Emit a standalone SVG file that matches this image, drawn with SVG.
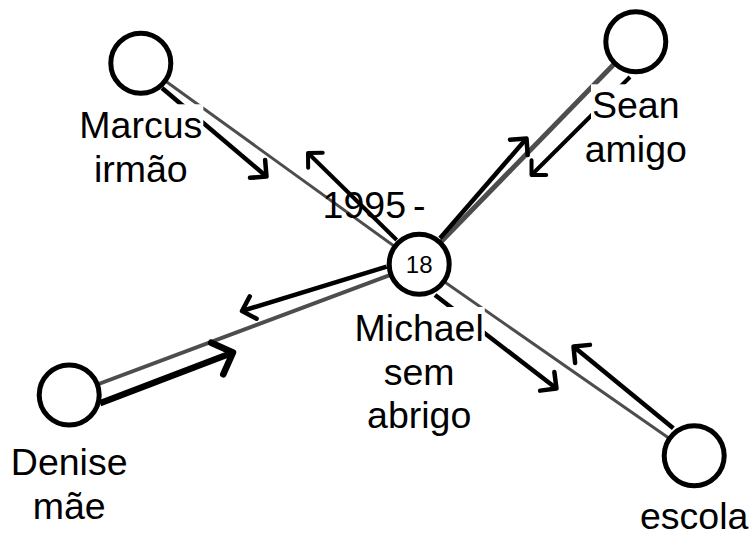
<svg xmlns="http://www.w3.org/2000/svg" width="751" height="539" viewBox="0 0 751 539">
  <defs>
    <style>
      .tie { stroke: #4d4d4d; fill: none; }
      .flow { stroke: #000; fill: none; marker-end: url(#head); }
      .node { fill: #fff; stroke: #000; stroke-width: 5; }
      .lbl { font-family: "Liberation Sans", Arial, sans-serif; font-size: 37.5px; text-anchor: middle; fill: #000; }
      .year { font-family: "Liberation Sans", Arial, sans-serif; font-size: 37.5px; text-anchor: start; fill: #000; }
      .age { font-family: "Liberation Sans", Arial, sans-serif; font-size: 24px; text-anchor: middle; fill: #000; }
      .bg { fill: #fff; }
    </style>
    <!-- open chevron head, scaled by the line's stroke width -->
    <marker id="head" markerUnits="strokeWidth" orient="auto" overflow="visible" markerWidth="6" markerHeight="6" refX="0" refY="0">
      <path d="M-2.6,-2.6 L0,0 L-2.6,2.6" fill="none" stroke="#000" stroke-width="1" stroke-linecap="round" stroke-linejoin="round"/>
    </marker>
  </defs>

  <rect width="751" height="539" fill="#fff"/>

  <g id="connectors">
    <!-- relationship ties -->
    <line class="tie" x1="140.8" y1="63.3" x2="419.2" y2="264.2" stroke-width="3"/>
    <line class="tie" x1="635.8" y1="41.7" x2="419.2" y2="264.2" stroke-width="5"/>
    <line class="tie" x1="69.2" y1="395" x2="419.2" y2="264.2" stroke-width="4"/>
    <line class="tie" x1="694.2" y1="455.8" x2="419.2" y2="264.2" stroke-width="3"/>
    <!-- directed flows -->
    <line class="flow" x1="162" y1="88" x2="266.5" y2="176.5" stroke-width="4.5"/>
    <line class="flow" x1="396.7" y1="240" x2="308" y2="153" stroke-width="4"/>
    <line class="flow" x1="440" y1="238.3" x2="526.5" y2="138.5" stroke-width="4.5"/>
    <line class="flow" x1="630" y1="77" x2="531.5" y2="175" stroke-width="4"/>
    <line class="flow" x1="100" y1="403.3" x2="233" y2="352.5" stroke-width="6.5"/>
    <line class="flow" x1="386.7" y1="266.7" x2="242" y2="311" stroke-width="4.5"/>
    <line class="flow" x1="435" y1="295" x2="556.5" y2="388.5" stroke-width="4.5"/>
    <line class="flow" x1="673.3" y1="428.3" x2="573.5" y2="346.5" stroke-width="4.5"/>
  </g>

  <text class="year" x="322.6" y="218.3">1995<tspan dx="7">-</tspan></text>

  <g id="michael">
    <circle class="node" cx="419.2" cy="264.2" r="30"/>
    <text class="age" x="419.2" y="272.8">18</text>
    <rect class="bg" x="353.6" y="307" width="131.2" height="42"/>
    <rect class="bg" x="382.8" y="350.5" width="72.8" height="42"/>
    <rect class="bg" x="366.1" y="394" width="106.2" height="42"/>
    <text class="lbl" x="419.2" y="341">Michael</text>
    <text class="lbl" x="419.2" y="384.5">sem</text>
    <text class="lbl" x="419.2" y="428">abrigo</text>
  </g>

  <g id="marcus">
    <circle class="node" cx="140.8" cy="63.3" r="30"/>
    <rect class="bg" x="78.4" y="104.3" width="124.9" height="42"/>
    <rect class="bg" x="93" y="147.7" width="95.8" height="42"/>
    <text class="lbl" x="140.8" y="138.3">Marcus</text>
    <text class="lbl" x="140.8" y="181.7">irmão</text>
  </g>

  <g id="sean">
    <circle class="node" cx="635.8" cy="41.7" r="30"/>
    <rect class="bg" x="591" y="84.3" width="89.6" height="42"/>
    <rect class="bg" x="583.7" y="127.7" width="104.1" height="42"/>
    <text class="lbl" x="635.8" y="118.3">Sean</text>
    <text class="lbl" x="635.8" y="161.7">amigo</text>
  </g>

  <g id="denise">
    <circle class="node" cx="69.2" cy="395" r="30"/>
    <rect class="bg" x="9.9" y="441" width="118.7" height="42"/>
    <rect class="bg" x="31.8" y="484.5" width="74.9" height="42"/>
    <text class="lbl" x="69.2" y="475">Denise</text>
    <text class="lbl" x="69.2" y="518.5">mãe</text>
  </g>

  <g id="escola">
    <circle class="node" cx="694.2" cy="455.8" r="30"/>
    <rect class="bg" x="639" y="495" width="110.4" height="42"/>
    <text class="lbl" x="694.2" y="529">escola</text>
  </g>
</svg>
